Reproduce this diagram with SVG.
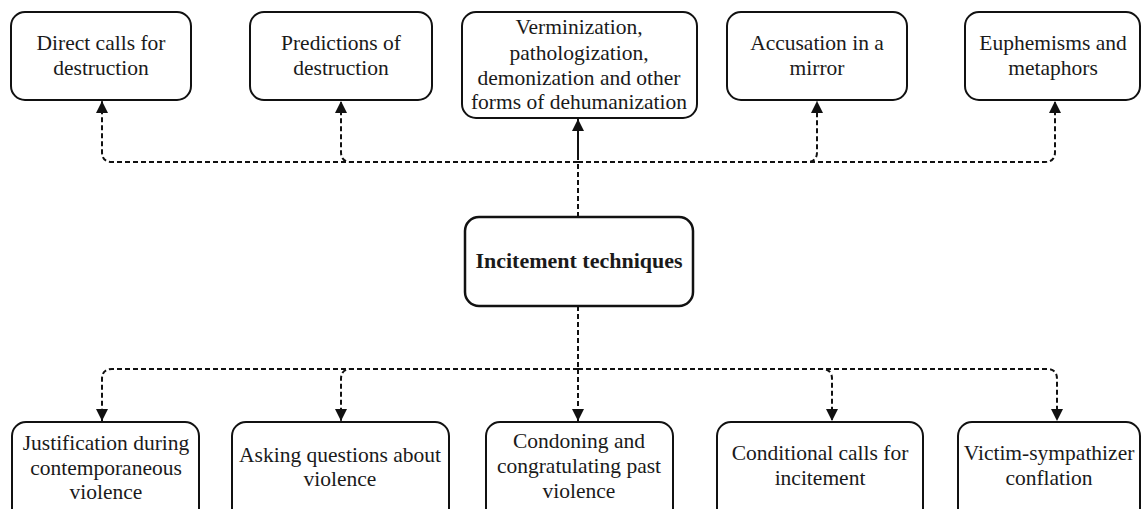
<svg xmlns="http://www.w3.org/2000/svg" width="1144" height="509" viewBox="0 0 1144 509">
<style>
.box{fill:#fff;stroke:#111;stroke-width:2}
.t{font-family:"Liberation Serif","Times New Roman",serif;font-size:21.5px;fill:#1a1a1a;text-anchor:middle}
.b{font-weight:bold;font-size:22px}
.dash{fill:none;stroke:#111;stroke-width:2;stroke-dasharray:5 3}
.solid{fill:none;stroke:#111;stroke-width:2}
</style>
<defs>
<marker id="ah" viewBox="0 0 12 12" refX="12" refY="6" markerWidth="12" markerHeight="12" markerUnits="userSpaceOnUse" orient="auto">
<path d="M0,0 L12,6 L0,12 z" fill="#111"/>
</marker>
</defs>
<rect width="1144" height="509" fill="#fff"/>
<g id="connectors">
<path class="dash" d="M578,217 V162"/>
<path class="dash" d="M578,162 H112 Q102,162 102,152 V101" marker-end="url(#ah)"/>
<path class="dash" d="M578,162 H351 Q341,162 341,152 V101" marker-end="url(#ah)"/>
<path class="solid" d="M578,160 V119" marker-end="url(#ah)"/>
<path class="dash" d="M578,162 H807 Q817,162 817,152 V101" marker-end="url(#ah)"/>
<path class="dash" d="M578,162 H1045 Q1055,162 1055,152 V101" marker-end="url(#ah)"/>
<path class="dash" d="M578,306 V369"/>
<path class="dash" d="M578,369 H112 Q102,369 102,379 V421" marker-end="url(#ah)"/>
<path class="dash" d="M578,369 H351 Q341,369 341,379 V421" marker-end="url(#ah)"/>
<path class="dash" d="M578,369 V421" marker-end="url(#ah)"/>
<path class="dash" d="M578,369 H822 Q832,369 832,379 V421" marker-end="url(#ah)"/>
<path class="dash" d="M578,369 H1047 Q1057,369 1057,379 V421" marker-end="url(#ah)"/>
</g>
<g id="n-direct">
<rect class="box" x="11" y="12" width="180" height="88" rx="14"/>
<text class="t" x="101" y="50">Direct calls for</text>
<text class="t" x="101" y="75">destruction</text>
</g>
<g id="n-predictions">
<rect class="box" x="250" y="12" width="182" height="88" rx="14"/>
<text class="t" x="341" y="50">Predictions of</text>
<text class="t" x="341" y="75">destruction</text>
</g>
<g id="n-vermin">
<rect class="box" x="462" y="12" width="235" height="106" rx="14"/>
<text class="t" x="579" y="34">Verminization,</text>
<text class="t" x="579" y="60">pathologization,</text>
<text class="t" x="579" y="85">demonization and other</text>
<text class="t" x="579" y="109">forms of dehumanization</text>
</g>
<g id="n-accusation">
<rect class="box" x="727" y="12" width="180" height="88" rx="14"/>
<text class="t" x="817" y="50">Accusation in a</text>
<text class="t" x="817" y="75">mirror</text>
</g>
<g id="n-euphemisms">
<rect class="box" x="965" y="12" width="175" height="88" rx="14"/>
<text class="t" x="1053" y="50">Euphemisms and</text>
<text class="t" x="1053" y="75">metaphors</text>
</g>
<g id="n-center">
<rect class="box" x="465" y="217" width="228" height="89" rx="14" style="stroke-width:2.5"/>
<text class="t b" x="579" y="268">Incitement techniques</text>
</g>
<g id="n-justification">
<rect class="box" x="12" y="422" width="187" height="100" rx="14"/>
<text class="t" x="106" y="450">Justification during</text>
<text class="t" x="106" y="475">contemporaneous</text>
<text class="t" x="106" y="499">violence</text>
</g>
<g id="n-asking">
<rect class="box" x="232" y="422" width="217" height="100" rx="14"/>
<text class="t" x="340" y="462">Asking questions about</text>
<text class="t" x="340" y="486">violence</text>
</g>
<g id="n-condoning">
<rect class="box" x="486" y="422" width="187" height="100" rx="14"/>
<text class="t" x="579" y="448">Condoning and</text>
<text class="t" x="579" y="473">congratulating past</text>
<text class="t" x="579" y="498">violence</text>
</g>
<g id="n-conditional">
<rect class="box" x="717" y="422" width="206" height="100" rx="14"/>
<text class="t" x="820" y="460">Conditional calls for</text>
<text class="t" x="820" y="485">incitement</text>
</g>
<g id="n-victim">
<rect class="box" x="958" y="422" width="182" height="100" rx="14"/>
<text class="t" x="1049" y="460">Victim-sympathizer</text>
<text class="t" x="1049" y="485">conflation</text>
</g>
</svg>
